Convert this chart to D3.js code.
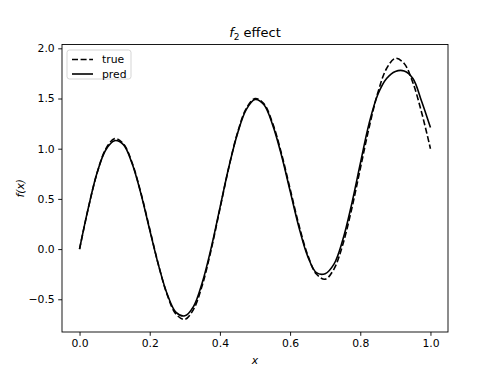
<!DOCTYPE html>
<html>
<head>
<meta charset="utf-8">
<script src="https://cdn.jsdelivr.net/npm/d3@7"></script>
<style>
  body { margin: 0; background: white; }
  text { font-family: "DejaVu Sans", sans-serif; }
</style>
</head>
<body>
<svg id="chart" width="498" height="374" viewBox="0 0 498 374"></svg>
<script>
// sample positions, every 0.025
const xs = d3.range(0, 41).map(i => i / 40);

const trueVals = [0, 0.408, 0.757, 0.999, 1.10, 1.049, 0.857, 0.558, 0.20, -0.158,
  -0.457, -0.649, -0.70, -0.599, -0.357, -0.008, 0.40, 0.808, 1.157, 1.399,
  1.50, 1.449, 1.257, 0.958, 0.60, 0.242, -0.057, -0.249, -0.30, -0.199,
  0.043, 0.392, 0.80, 1.208, 1.557, 1.799, 1.90, 1.849, 1.657, 1.358, 1.0];

const predVals = [0, 0.41, 0.76, 0.99, 1.08, 1.04, 0.85, 0.55, 0.19, -0.16,
  -0.45, -0.63, -0.665, -0.57, -0.33, 0.01, 0.41, 0.81, 1.15, 1.39,
  1.49, 1.44, 1.24, 0.94, 0.58, 0.22, -0.07, -0.235, -0.245, -0.15,
  0.09, 0.44, 0.85, 1.25, 1.54, 1.70, 1.77, 1.775, 1.70, 1.47, 1.21];

const xTicks = [0, 0.2, 0.4, 0.6, 0.8, 1.0];
const yTicks = [-0.5, 0, 0.5, 1.0, 1.5, 2.0];

const margins = {top: 44.5, right: 50, bottom: 42, left: 62};
const W = 498, H = 374;

const svg = d3.select("#chart");

const xScale = d3.scaleLinear([-0.05, 1.05], [margins.left, W - margins.right]);
const yScale = d3.scaleLinear([-0.826, 2.038], [H - margins.bottom, margins.top]);

// axes
svg.append("g")
    .attr("transform", `translate(0,${H - margins.bottom})`)
    .call(d3.axisBottom(xScale).tickValues(xTicks).tickFormat(d3.format(".1f"))
        .tickSize(3.8).tickPadding(3.5))
    .call(g => g.select(".domain").remove())
    .call(g => g.selectAll("text").attr("font-size", 10.8).attr("font-family", "DejaVu Sans"))
    .call(g => g.selectAll("line").attr("stroke-width", 0.9));

svg.append("g")
    .attr("transform", `translate(${margins.left},0)`)
    .call(d3.axisLeft(yScale).tickValues(yTicks)
        .tickFormat(d => d3.format(".1f")(d).replace("-", "\u2212"))
        .tickSize(3.8).tickPadding(3.5))
    .call(g => g.select(".domain").remove())
    .call(g => g.selectAll("text").attr("font-size", 10.8).attr("font-family", "DejaVu Sans"))
    .call(g => g.selectAll("line").attr("stroke-width", 0.9));

const line = d3.line()
    .x((d, i) => xScale(xs[i]))
    .y(d => yScale(d))
    .curve(d3.curveCatmullRom.alpha(0.5));

svg.append("path")
    .datum(trueVals)
    .attr("d", line)
    .attr("fill", "none")
    .attr("stroke", "black")
    .attr("stroke-width", 1.6)
    .attr("stroke-dasharray", "6,2.6");

svg.append("path")
    .datum(predVals)
    .attr("d", line)
    .attr("fill", "none")
    .attr("stroke", "black")
    .attr("stroke-width", 1.6);

// frame
svg.append("rect")
    .attr("x", margins.left)
    .attr("y", margins.top)
    .attr("width", W - margins.left - margins.right)
    .attr("height", H - margins.top - margins.bottom)
    .attr("fill", "none")
    .attr("stroke", "black")
    .attr("stroke-width", 0.9);

// title
const title = svg.append("text")
    .attr("x", (margins.left + W - margins.right) / 2)
    .attr("y", 37)
    .attr("text-anchor", "middle")
    .attr("font-size", 13);
title.append("tspan").attr("font-style", "italic").text("f");
title.append("tspan").attr("font-size", 9).attr("dy", 3).text("2");
title.append("tspan").attr("dy", -3).text(" effect");

// axis labels
svg.append("text")
    .attr("x", (margins.left + W - margins.right) / 2)
    .attr("y", 364)
    .attr("text-anchor", "middle")
    .attr("font-size", 10.8)
    .attr("font-style", "italic")
    .text("x");

svg.append("text")
    .attr("transform", `translate(24,${(margins.top + H - margins.bottom) / 2}) rotate(-90)`)
    .attr("text-anchor", "middle")
    .attr("font-size", 10.8)
    .text("f(x)")
    .attr("font-style", "italic");

// legend
const legend = svg.append("g");
legend.append("rect")
    .attr("x", 67).attr("y", 50)
    .attr("width", 64).attr("height", 29)
    .attr("rx", 2.5)
    .attr("fill", "white")
    .attr("fill-opacity", 0.8)
    .attr("stroke", "#d0d0d0")
    .attr("stroke-width", 0.9);

const legendItems = [{label: "true", dash: "6,2.6", y: 59.5}, {label: "pred", dash: null, y: 74}];
legendItems.forEach(it => {
    legend.append("line")
        .attr("x1", 72).attr("x2", 93)
        .attr("y1", it.y).attr("y2", it.y)
        .attr("stroke", "black")
        .attr("stroke-width", 1.6)
        .attr("stroke-dasharray", it.dash);
    legend.append("text")
        .attr("x", 102).attr("y", it.y + 3.8)
        .attr("font-size", 10.8)
        .text(it.label);
});
</script>
</body>
</html>
